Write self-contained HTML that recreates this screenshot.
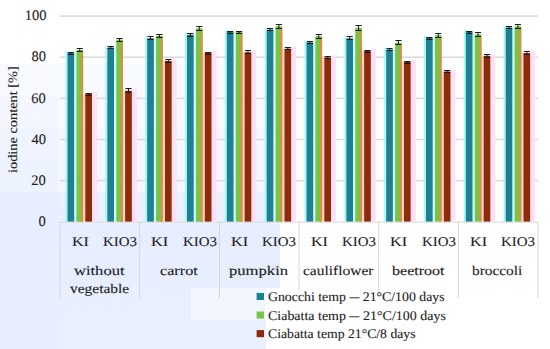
<!DOCTYPE html><html><head><meta charset="utf-8"><style>
html,body{margin:0;padding:0;background:#fff;}
body{width:550px;height:349px;position:relative;overflow:hidden;font-family:"Liberation Serif",serif;color:#1e1e1e;}
.t{position:absolute;white-space:nowrap;line-height:1;-webkit-text-stroke:0.12px #1e1e1e;text-rendering:geometricPrecision;}
</style></head><body>
<svg width="550" height="349" style="position:absolute;left:0;top:0">
<rect x="0" y="64" width="58" height="32" fill="rgb(248, 250, 255)"/>
<rect x="0" y="96" width="58" height="32" fill="rgb(244, 247, 255)"/>
<rect x="0" y="128" width="58" height="32" fill="rgb(239, 244, 255)"/>
<rect x="0" y="160" width="58" height="32" fill="rgb(237, 242, 255)"/>
<rect x="0" y="192" width="58" height="32" fill="rgb(231, 238, 255)"/>
<rect x="0" y="224" width="60" height="125" fill="rgb(230, 238, 255)"/>
<rect x="58" y="64" width="222" height="64" fill="rgb(248, 250, 255)"/>
<rect x="58" y="128" width="222" height="64" fill="rgb(244, 247, 255)"/>
<rect x="58" y="192" width="222" height="32" fill="rgb(234, 240, 255)"/>
<rect x="60" y="224" width="220" height="64" fill="rgb(230, 238, 255)"/>
<rect x="60" y="288" width="130" height="32" fill="rgb(232, 239, 255)"/>
<rect x="190" y="288" width="76" height="32" fill="rgb(242, 246, 255)"/>
<rect x="60" y="320" width="206" height="29" fill="rgb(234, 240, 255)"/>
<rect x="60.0" y="179.90" width="478.0" height="1.5" fill="#d9d9d9"/>
<rect x="60.0" y="138.75" width="478.0" height="1.5" fill="#d9d9d9"/>
<rect x="60.0" y="97.60" width="478.0" height="1.5" fill="#d9d9d9"/>
<rect x="60.0" y="56.45" width="478.0" height="1.5" fill="#d9d9d9"/>
<rect x="60.0" y="15.30" width="478.0" height="1.5" fill="#d9d9d9"/>
<rect x="60.0" y="221.60" width="478.0" height="1" fill="#d6d6d6"/>
<rect x="59.50" y="221.60" width="1" height="76.5" fill="#d6d6d6"/>
<rect x="139.17" y="221.60" width="1" height="76.5" fill="#d6d6d6"/>
<rect x="218.83" y="221.60" width="1" height="76.5" fill="#d6d6d6"/>
<rect x="298.50" y="221.60" width="1" height="76.5" fill="#d6d6d6"/>
<rect x="378.17" y="221.60" width="1" height="76.5" fill="#d6d6d6"/>
<rect x="457.83" y="221.60" width="1" height="76.5" fill="#d6d6d6"/>
<rect x="537.50" y="221.60" width="1" height="76.5" fill="#d6d6d6"/>
<rect x="65.50" y="51.00" width="2" height="170.60" fill="rgb(160,250,250)"/>
<rect x="74.20" y="53.00" width="2.20" height="168.60" fill="rgb(205,255,255)"/>
<rect x="83.10" y="94.00" width="2.20" height="127.60" fill="rgb(255,210,205)"/>
<rect x="92.00" y="92.00" width="5" height="129.60" fill="rgb(255,224,248)"/>
<rect x="105.33" y="45.50" width="2" height="176.10" fill="rgb(160,250,250)"/>
<rect x="114.03" y="47.50" width="2.20" height="174.10" fill="rgb(205,255,255)"/>
<rect x="122.93" y="90.70" width="2.20" height="130.90" fill="rgb(255,210,205)"/>
<rect x="131.83" y="88.70" width="5" height="132.90" fill="rgb(255,224,248)"/>
<rect x="145.17" y="36.20" width="2" height="185.40" fill="rgb(160,250,250)"/>
<rect x="153.87" y="38.20" width="2.20" height="183.40" fill="rgb(205,255,255)"/>
<rect x="162.77" y="60.90" width="2.20" height="160.70" fill="rgb(255,210,205)"/>
<rect x="171.67" y="58.90" width="5" height="162.70" fill="rgb(255,224,248)"/>
<rect x="185.00" y="32.70" width="2" height="188.90" fill="rgb(160,250,250)"/>
<rect x="193.70" y="34.70" width="2.20" height="186.90" fill="rgb(205,255,255)"/>
<rect x="202.60" y="52.80" width="2.20" height="168.80" fill="rgb(255,210,205)"/>
<rect x="211.50" y="50.80" width="5" height="170.80" fill="rgb(255,224,248)"/>
<rect x="224.83" y="29.80" width="2" height="191.80" fill="rgb(160,250,250)"/>
<rect x="233.53" y="31.80" width="2.20" height="189.80" fill="rgb(205,255,255)"/>
<rect x="242.43" y="52.30" width="2.20" height="169.30" fill="rgb(255,210,205)"/>
<rect x="251.33" y="50.30" width="5" height="171.30" fill="rgb(255,224,248)"/>
<rect x="264.67" y="27.60" width="2" height="194.00" fill="rgb(160,250,250)"/>
<rect x="273.37" y="29.60" width="2.20" height="192.00" fill="rgb(205,255,255)"/>
<rect x="282.27" y="48.70" width="2.20" height="172.90" fill="rgb(255,210,205)"/>
<rect x="291.17" y="46.70" width="5" height="174.90" fill="rgb(255,224,248)"/>
<rect x="304.50" y="40.40" width="2" height="181.20" fill="rgb(160,250,250)"/>
<rect x="313.20" y="42.40" width="2.20" height="179.20" fill="rgb(205,255,255)"/>
<rect x="322.10" y="57.50" width="2.20" height="164.10" fill="rgb(255,210,205)"/>
<rect x="331.00" y="55.50" width="5" height="166.10" fill="rgb(255,224,248)"/>
<rect x="344.33" y="36.40" width="2" height="185.20" fill="rgb(160,250,250)"/>
<rect x="353.03" y="38.40" width="2.20" height="183.20" fill="rgb(205,255,255)"/>
<rect x="361.93" y="51.00" width="2.20" height="170.60" fill="rgb(255,210,205)"/>
<rect x="370.83" y="49.00" width="5" height="172.60" fill="rgb(255,224,248)"/>
<rect x="384.17" y="47.50" width="2" height="174.10" fill="rgb(160,250,250)"/>
<rect x="392.87" y="49.50" width="2.20" height="172.10" fill="rgb(205,255,255)"/>
<rect x="401.77" y="62.00" width="2.20" height="159.60" fill="rgb(255,210,205)"/>
<rect x="410.67" y="60.00" width="5" height="161.60" fill="rgb(255,224,248)"/>
<rect x="424.00" y="35.80" width="2" height="185.80" fill="rgb(160,250,250)"/>
<rect x="432.70" y="37.80" width="2.20" height="183.80" fill="rgb(205,255,255)"/>
<rect x="441.60" y="71.50" width="2.20" height="150.10" fill="rgb(255,210,205)"/>
<rect x="450.50" y="69.50" width="5" height="152.10" fill="rgb(255,224,248)"/>
<rect x="463.83" y="29.60" width="2" height="192.00" fill="rgb(160,250,250)"/>
<rect x="472.53" y="34.30" width="2.20" height="187.30" fill="rgb(205,255,255)"/>
<rect x="481.43" y="55.80" width="2.20" height="165.80" fill="rgb(255,210,205)"/>
<rect x="490.33" y="53.80" width="5" height="167.80" fill="rgb(255,224,248)"/>
<rect x="503.67" y="25.50" width="2" height="196.10" fill="rgb(160,250,250)"/>
<rect x="512.37" y="27.50" width="2.20" height="194.10" fill="rgb(205,255,255)"/>
<rect x="521.27" y="53.10" width="2.20" height="168.50" fill="rgb(255,210,205)"/>
<rect x="530.17" y="51.10" width="5" height="170.50" fill="rgb(255,224,248)"/>
<rect x="67.50" y="53.00" width="6.7" height="168.60" fill="#1e8090"/>
<rect x="76.40" y="50.00" width="6.7" height="171.60" fill="#78c445"/>
<rect x="81.10" y="52.00" width="2" height="169.60" fill="rgb(225,140,70)"/>
<rect x="85.30" y="94.00" width="6.7" height="127.60" fill="#8e2b08"/>
<rect x="107.33" y="47.50" width="6.7" height="174.10" fill="#1e8090"/>
<rect x="116.23" y="39.60" width="6.7" height="182.00" fill="#78c445"/>
<rect x="120.93" y="41.60" width="2" height="180.00" fill="rgb(225,140,70)"/>
<rect x="125.13" y="90.70" width="6.7" height="130.90" fill="#8e2b08"/>
<rect x="147.17" y="38.20" width="6.7" height="183.40" fill="#1e8090"/>
<rect x="156.07" y="35.80" width="6.7" height="185.80" fill="#78c445"/>
<rect x="160.77" y="37.80" width="2" height="183.80" fill="rgb(225,140,70)"/>
<rect x="164.97" y="60.90" width="6.7" height="160.70" fill="#8e2b08"/>
<rect x="187.00" y="34.70" width="6.7" height="186.90" fill="#1e8090"/>
<rect x="195.90" y="28.40" width="6.7" height="193.20" fill="#78c445"/>
<rect x="200.60" y="30.40" width="2" height="191.20" fill="rgb(225,140,70)"/>
<rect x="204.80" y="52.80" width="6.7" height="168.80" fill="#8e2b08"/>
<rect x="226.83" y="31.80" width="6.7" height="189.80" fill="#1e8090"/>
<rect x="235.73" y="31.80" width="6.7" height="189.80" fill="#78c445"/>
<rect x="240.43" y="33.80" width="2" height="187.80" fill="rgb(225,140,70)"/>
<rect x="244.63" y="52.30" width="6.7" height="169.30" fill="#8e2b08"/>
<rect x="266.67" y="29.60" width="6.7" height="192.00" fill="#1e8090"/>
<rect x="275.57" y="26.30" width="6.7" height="195.30" fill="#78c445"/>
<rect x="280.27" y="28.30" width="2" height="193.30" fill="rgb(225,140,70)"/>
<rect x="284.47" y="48.70" width="6.7" height="172.90" fill="#8e2b08"/>
<rect x="306.50" y="42.40" width="6.7" height="179.20" fill="#1e8090"/>
<rect x="315.40" y="36.20" width="6.7" height="185.40" fill="#78c445"/>
<rect x="320.10" y="38.20" width="2" height="183.40" fill="rgb(225,140,70)"/>
<rect x="324.30" y="57.50" width="6.7" height="164.10" fill="#8e2b08"/>
<rect x="346.33" y="38.40" width="6.7" height="183.20" fill="#1e8090"/>
<rect x="355.23" y="27.80" width="6.7" height="193.80" fill="#78c445"/>
<rect x="359.93" y="29.80" width="2" height="191.80" fill="rgb(225,140,70)"/>
<rect x="364.13" y="51.00" width="6.7" height="170.60" fill="#8e2b08"/>
<rect x="386.17" y="49.50" width="6.7" height="172.10" fill="#1e8090"/>
<rect x="395.07" y="42.70" width="6.7" height="178.90" fill="#78c445"/>
<rect x="399.77" y="44.70" width="2" height="176.90" fill="rgb(225,140,70)"/>
<rect x="403.97" y="62.00" width="6.7" height="159.60" fill="#8e2b08"/>
<rect x="426.00" y="37.80" width="6.7" height="183.80" fill="#1e8090"/>
<rect x="434.90" y="35.20" width="6.7" height="186.40" fill="#78c445"/>
<rect x="439.60" y="37.20" width="2" height="184.40" fill="rgb(225,140,70)"/>
<rect x="443.80" y="71.50" width="6.7" height="150.10" fill="#8e2b08"/>
<rect x="465.83" y="31.60" width="6.7" height="190.00" fill="#1e8090"/>
<rect x="474.73" y="34.30" width="6.7" height="187.30" fill="#78c445"/>
<rect x="479.43" y="36.30" width="2" height="185.30" fill="rgb(225,140,70)"/>
<rect x="483.63" y="55.80" width="6.7" height="165.80" fill="#8e2b08"/>
<rect x="505.67" y="27.50" width="6.7" height="194.10" fill="#1e8090"/>
<rect x="514.57" y="26.20" width="6.7" height="195.40" fill="#78c445"/>
<rect x="519.27" y="28.20" width="2" height="193.40" fill="rgb(225,140,70)"/>
<rect x="523.47" y="53.10" width="6.7" height="168.50" fill="#8e2b08"/>
<rect x="70.35" y="52" width="1" height="2" fill="#1a1a1a"/>
<rect x="67.80" y="52" width="6.10" height="1" fill="#1a1a1a"/>
<rect x="67.80" y="54" width="6.10" height="1" fill="#1a1a1a"/>
<rect x="79.25" y="48" width="1" height="3" fill="#1a1a1a"/>
<rect x="76.70" y="48" width="6.10" height="1" fill="#1a1a1a"/>
<rect x="76.70" y="51" width="6.10" height="1" fill="#1a1a1a"/>
<rect x="88.15" y="93" width="1" height="2" fill="#1a1a1a"/>
<rect x="85.60" y="93" width="6.10" height="1" fill="#1a1a1a"/>
<rect x="85.60" y="95" width="6.10" height="1" fill="#1a1a1a"/>
<rect x="110.18" y="46" width="1" height="2" fill="#1a1a1a"/>
<rect x="107.63" y="46" width="6.10" height="1" fill="#1a1a1a"/>
<rect x="107.63" y="48" width="6.10" height="1" fill="#1a1a1a"/>
<rect x="119.08" y="38" width="1" height="3" fill="#1a1a1a"/>
<rect x="116.53" y="38" width="6.10" height="1" fill="#1a1a1a"/>
<rect x="116.53" y="41" width="6.10" height="1" fill="#1a1a1a"/>
<rect x="127.98" y="88" width="1" height="4" fill="#1a1a1a"/>
<rect x="125.43" y="88" width="6.10" height="1" fill="#1a1a1a"/>
<rect x="125.43" y="92" width="6.10" height="1" fill="#1a1a1a"/>
<rect x="150.02" y="36" width="1" height="3" fill="#1a1a1a"/>
<rect x="147.47" y="36" width="6.10" height="1" fill="#1a1a1a"/>
<rect x="147.47" y="39" width="6.10" height="1" fill="#1a1a1a"/>
<rect x="158.92" y="34" width="1" height="3" fill="#1a1a1a"/>
<rect x="156.37" y="34" width="6.10" height="1" fill="#1a1a1a"/>
<rect x="156.37" y="37" width="6.10" height="1" fill="#1a1a1a"/>
<rect x="167.82" y="59" width="1" height="3" fill="#1a1a1a"/>
<rect x="165.27" y="59" width="6.10" height="1" fill="#1a1a1a"/>
<rect x="165.27" y="62" width="6.10" height="1" fill="#1a1a1a"/>
<rect x="189.85" y="33" width="1" height="3" fill="#1a1a1a"/>
<rect x="187.30" y="33" width="6.10" height="1" fill="#1a1a1a"/>
<rect x="187.30" y="36" width="6.10" height="1" fill="#1a1a1a"/>
<rect x="198.75" y="26" width="1" height="4" fill="#1a1a1a"/>
<rect x="196.20" y="26" width="6.10" height="1" fill="#1a1a1a"/>
<rect x="196.20" y="30" width="6.10" height="1" fill="#1a1a1a"/>
<rect x="207.65" y="52" width="1" height="2" fill="#1a1a1a"/>
<rect x="205.10" y="52" width="6.10" height="1" fill="#1a1a1a"/>
<rect x="205.10" y="54" width="6.10" height="1" fill="#1a1a1a"/>
<rect x="229.68" y="31" width="1" height="2" fill="#1a1a1a"/>
<rect x="227.13" y="31" width="6.10" height="1" fill="#1a1a1a"/>
<rect x="227.13" y="33" width="6.10" height="1" fill="#1a1a1a"/>
<rect x="238.58" y="31" width="1" height="2" fill="#1a1a1a"/>
<rect x="236.03" y="31" width="6.10" height="1" fill="#1a1a1a"/>
<rect x="236.03" y="33" width="6.10" height="1" fill="#1a1a1a"/>
<rect x="247.48" y="50" width="1" height="3" fill="#1a1a1a"/>
<rect x="244.93" y="50" width="6.10" height="1" fill="#1a1a1a"/>
<rect x="244.93" y="53" width="6.10" height="1" fill="#1a1a1a"/>
<rect x="269.52" y="28" width="1" height="2" fill="#1a1a1a"/>
<rect x="266.97" y="28" width="6.10" height="1" fill="#1a1a1a"/>
<rect x="266.97" y="30" width="6.10" height="1" fill="#1a1a1a"/>
<rect x="278.42" y="24" width="1" height="4" fill="#1a1a1a"/>
<rect x="275.87" y="24" width="6.10" height="1" fill="#1a1a1a"/>
<rect x="275.87" y="28" width="6.10" height="1" fill="#1a1a1a"/>
<rect x="287.32" y="47" width="1" height="2" fill="#1a1a1a"/>
<rect x="284.77" y="47" width="6.10" height="1" fill="#1a1a1a"/>
<rect x="284.77" y="49" width="6.10" height="1" fill="#1a1a1a"/>
<rect x="309.35" y="41" width="1" height="2" fill="#1a1a1a"/>
<rect x="306.80" y="41" width="6.10" height="1" fill="#1a1a1a"/>
<rect x="306.80" y="43" width="6.10" height="1" fill="#1a1a1a"/>
<rect x="318.25" y="34" width="1" height="4" fill="#1a1a1a"/>
<rect x="315.70" y="34" width="6.10" height="1" fill="#1a1a1a"/>
<rect x="315.70" y="38" width="6.10" height="1" fill="#1a1a1a"/>
<rect x="327.15" y="56" width="1" height="2" fill="#1a1a1a"/>
<rect x="324.60" y="56" width="6.10" height="1" fill="#1a1a1a"/>
<rect x="324.60" y="58" width="6.10" height="1" fill="#1a1a1a"/>
<rect x="349.18" y="36" width="1" height="3" fill="#1a1a1a"/>
<rect x="346.63" y="36" width="6.10" height="1" fill="#1a1a1a"/>
<rect x="346.63" y="39" width="6.10" height="1" fill="#1a1a1a"/>
<rect x="358.08" y="25" width="1" height="5" fill="#1a1a1a"/>
<rect x="355.53" y="25" width="6.10" height="1" fill="#1a1a1a"/>
<rect x="355.53" y="30" width="6.10" height="1" fill="#1a1a1a"/>
<rect x="366.98" y="50" width="1" height="2" fill="#1a1a1a"/>
<rect x="364.43" y="50" width="6.10" height="1" fill="#1a1a1a"/>
<rect x="364.43" y="52" width="6.10" height="1" fill="#1a1a1a"/>
<rect x="389.02" y="48" width="1" height="2" fill="#1a1a1a"/>
<rect x="386.47" y="48" width="6.10" height="1" fill="#1a1a1a"/>
<rect x="386.47" y="50" width="6.10" height="1" fill="#1a1a1a"/>
<rect x="397.92" y="40" width="1" height="4" fill="#1a1a1a"/>
<rect x="395.37" y="40" width="6.10" height="1" fill="#1a1a1a"/>
<rect x="395.37" y="44" width="6.10" height="1" fill="#1a1a1a"/>
<rect x="406.82" y="61" width="1" height="2" fill="#1a1a1a"/>
<rect x="404.27" y="61" width="6.10" height="1" fill="#1a1a1a"/>
<rect x="404.27" y="63" width="6.10" height="1" fill="#1a1a1a"/>
<rect x="428.85" y="37" width="1" height="2" fill="#1a1a1a"/>
<rect x="426.30" y="37" width="6.10" height="1" fill="#1a1a1a"/>
<rect x="426.30" y="39" width="6.10" height="1" fill="#1a1a1a"/>
<rect x="437.75" y="33" width="1" height="4" fill="#1a1a1a"/>
<rect x="435.20" y="33" width="6.10" height="1" fill="#1a1a1a"/>
<rect x="435.20" y="37" width="6.10" height="1" fill="#1a1a1a"/>
<rect x="446.65" y="70" width="1" height="2" fill="#1a1a1a"/>
<rect x="444.10" y="70" width="6.10" height="1" fill="#1a1a1a"/>
<rect x="444.10" y="72" width="6.10" height="1" fill="#1a1a1a"/>
<rect x="468.68" y="31" width="1" height="2" fill="#1a1a1a"/>
<rect x="466.13" y="31" width="6.10" height="1" fill="#1a1a1a"/>
<rect x="466.13" y="33" width="6.10" height="1" fill="#1a1a1a"/>
<rect x="477.58" y="32" width="1" height="4" fill="#1a1a1a"/>
<rect x="475.03" y="32" width="6.10" height="1" fill="#1a1a1a"/>
<rect x="475.03" y="36" width="6.10" height="1" fill="#1a1a1a"/>
<rect x="486.48" y="54" width="1" height="3" fill="#1a1a1a"/>
<rect x="483.93" y="54" width="6.10" height="1" fill="#1a1a1a"/>
<rect x="483.93" y="57" width="6.10" height="1" fill="#1a1a1a"/>
<rect x="508.52" y="26" width="1" height="2" fill="#1a1a1a"/>
<rect x="505.97" y="26" width="6.10" height="1" fill="#1a1a1a"/>
<rect x="505.97" y="28" width="6.10" height="1" fill="#1a1a1a"/>
<rect x="517.42" y="24" width="1" height="4" fill="#1a1a1a"/>
<rect x="514.87" y="24" width="6.10" height="1" fill="#1a1a1a"/>
<rect x="514.87" y="28" width="6.10" height="1" fill="#1a1a1a"/>
<rect x="526.32" y="51" width="1" height="3" fill="#1a1a1a"/>
<rect x="523.77" y="51" width="6.10" height="1" fill="#1a1a1a"/>
<rect x="523.77" y="54" width="6.10" height="1" fill="#1a1a1a"/>
<rect x="266" y="290.5" width="184" height="58" fill="#fff"/>
<rect x="256.6" y="292.90" width="7.4" height="7.1" fill="#1e8090"/>
<rect x="256.6" y="311.50" width="7.4" height="7.1" fill="#78c445"/>
<rect x="256.6" y="330.10" width="7.4" height="7.1" fill="#8e2b08"/>
</svg>
<div class="t" id="y0" style="left:38.61px;top:214.84px;font-size:14.5px;letter-spacing:0.000px;transform-origin:0 0;transform:scaleX(1.0000);">0</div>
<div class="t" id="y20" style="left:31.36px;top:173.80px;font-size:14.5px;letter-spacing:0.000px;transform-origin:0 0;transform:scaleX(1.0000);">20</div>
<div class="t" id="y40" style="left:31.47px;top:132.91px;font-size:14.5px;letter-spacing:0.000px;transform-origin:0 0;transform:scaleX(1.0000);">40</div>
<div class="t" id="y60" style="left:31.36px;top:92.05px;font-size:14.5px;letter-spacing:0.000px;transform-origin:0 0;transform:scaleX(1.0000);">60</div>
<div class="t" id="y80" style="left:31.47px;top:50.18px;font-size:14.5px;letter-spacing:0.000px;transform-origin:0 0;transform:scaleX(1.0000);">80</div>
<div class="t" id="y100" style="left:24.86px;top:9.17px;font-size:14.5px;letter-spacing:0.000px;transform-origin:0 0;transform:scaleX(1.0000);">100</div>
<div class="t" id="x0" style="left:72.02px;top:234.77px;font-size:13.4px;letter-spacing:0.000px;transform-origin:0 0;transform:scaleX(1.2011);">KI</div>
<div class="t" id="x1" style="left:102.67px;top:234.77px;font-size:13.4px;letter-spacing:0.000px;transform-origin:0 0;transform:scaleX(1.1158);">KIO3</div>
<div class="t" id="x2" style="left:151.13px;top:234.77px;font-size:13.4px;letter-spacing:0.000px;transform-origin:0 0;transform:scaleX(1.2230);">KI</div>
<div class="t" id="x3" style="left:182.63px;top:234.77px;font-size:13.4px;letter-spacing:0.000px;transform-origin:0 0;transform:scaleX(1.1158);">KIO3</div>
<div class="t" id="x4" style="left:231.10px;top:234.77px;font-size:13.4px;letter-spacing:0.000px;transform-origin:0 0;transform:scaleX(1.2144);">KI</div>
<div class="t" id="x5" style="left:261.66px;top:234.77px;font-size:13.4px;letter-spacing:0.000px;transform-origin:0 0;transform:scaleX(1.1158);">KIO3</div>
<div class="t" id="x6" style="left:311.02px;top:234.77px;font-size:13.4px;letter-spacing:0.000px;transform-origin:0 0;transform:scaleX(1.2011);">KI</div>
<div class="t" id="x7" style="left:341.67px;top:234.77px;font-size:13.4px;letter-spacing:0.000px;transform-origin:0 0;transform:scaleX(1.1158);">KIO3</div>
<div class="t" id="x8" style="left:390.13px;top:234.77px;font-size:13.4px;letter-spacing:0.000px;transform-origin:0 0;transform:scaleX(1.2230);">KI</div>
<div class="t" id="x9" style="left:421.63px;top:234.77px;font-size:13.4px;letter-spacing:0.000px;transform-origin:0 0;transform:scaleX(1.1158);">KIO3</div>
<div class="t" id="x10" style="left:470.10px;top:234.77px;font-size:13.4px;letter-spacing:0.000px;transform-origin:0 0;transform:scaleX(1.2144);">KI</div>
<div class="t" id="x11" style="left:500.66px;top:234.77px;font-size:13.4px;letter-spacing:0.000px;transform-origin:0 0;transform:scaleX(1.1158);">KIO3</div>
<div class="t" id="g0" style="left:73.91px;top:264.06px;font-size:13.4px;letter-spacing:0.000px;transform-origin:0 0;transform:scaleX(1.2343);">without</div>
<div class="t" id="g0b" style="left:69.72px;top:282.06px;font-size:13.4px;letter-spacing:0.000px;transform-origin:0 0;transform:scaleX(1.1526);">vegetable</div>
<div class="t" id="g1" style="left:159.87px;top:264.06px;font-size:13.4px;letter-spacing:0.000px;transform-origin:0 0;transform:scaleX(1.2083);">carrot</div>
<div class="t" id="g2" style="left:228.52px;top:264.06px;font-size:13.4px;letter-spacing:0.000px;transform-origin:0 0;transform:scaleX(1.2411);">pumpkin</div>
<div class="t" id="g3" style="left:302.62px;top:264.06px;font-size:13.4px;letter-spacing:0.000px;transform-origin:0 0;transform:scaleX(1.1560);">cauliflower</div>
<div class="t" id="g4" style="left:392.02px;top:264.06px;font-size:13.4px;letter-spacing:0.000px;transform-origin:0 0;transform:scaleX(1.1974);">beetroot</div>
<div class="t" id="g5" style="left:472.00px;top:264.06px;font-size:13.4px;letter-spacing:0.000px;transform-origin:0 0;transform:scaleX(1.1465);">broccoli</div>
<div class="t" id="l0" style="left:268.26px;top:290.31px;font-size:13.2px;letter-spacing:0.000px;transform-origin:0 0;transform:scaleX(1.0464);">Gnocchi temp <span style="display:inline-block;transform:scaleX(0.72);margin:0 -1.8px">—</span> 21°C/100 days</div>
<div class="t" id="l1" style="left:268.26px;top:308.71px;font-size:13.2px;letter-spacing:0.000px;transform-origin:0 0;transform:scaleX(1.0586);">Ciabatta temp <span style="display:inline-block;transform:scaleX(0.72);margin:0 -1.8px">—</span> 21°C/100 days</div>
<div class="t" id="l2" style="left:268.25px;top:327.11px;font-size:13.2px;letter-spacing:0.000px;transform-origin:0 0;transform:scaleX(1.0397);">Ciabatta temp 21°C/8 days</div>
<div class="t" id="title" style="left:7.42px;top:173.10px;font-size:12.8px;letter-spacing:0.000px;transform-origin:0 0;transform:rotate(-90deg) scaleX(1.1221);">iodine content [%]</div>
</body></html>
